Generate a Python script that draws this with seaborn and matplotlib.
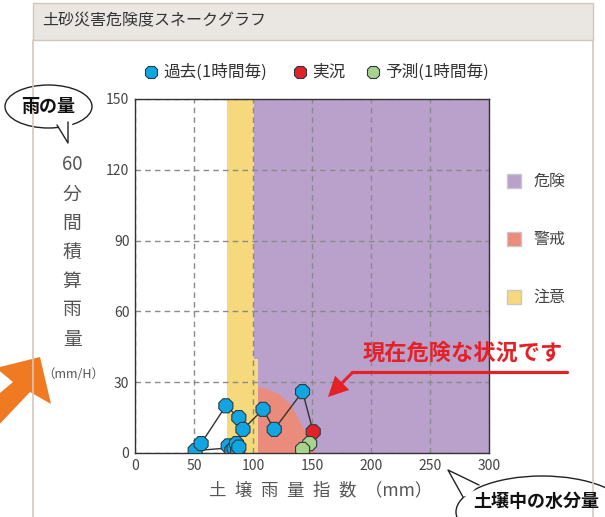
import matplotlib
matplotlib.use("Agg")
import matplotlib.pyplot as plt
import matplotlib.transforms as mtransforms
from matplotlib.patches import Ellipse, Rectangle, Polygon, FancyArrow
from matplotlib.lines import Line2D
import seaborn as sns
import pandas as pd

# snake points: soil water index (mm) vs 60-minute rainfall (mm/h)
past_soil = [79, 82, 84, 86, 87, 88, 51, 56, 77, 88, 91.5, 108.5, 118, 142]
past_rain = [3, 1, 2, 4, 1, 2.5, 1, 4, 20, 15, 10, 18.5, 10, 26]
now_soil = [151]
now_rain = [9]
fcst_soil = [148, 142]
fcst_rain = [4, 1.5]
kinds = ["過去(1時間毎)", "実況", "予測(1時間毎)"]

# risk zones (rain level -> soil index boundaries)
band_rain = [0, 40, 40, 150]
caution_left = [78, 78, 78, 78]
danger_left = [104, 104, 101, 101]
warn_rain = [0, 5, 10, 15, 21, 25, 27.5, 28]
warn_right = [153, 148, 143, 138, 131, 122, 110, 104]
zone_names = ["危険", "警戒", "注意"]

x_ticks = [0, 50, 100, 150, 200, 250, 300]
y_ticks = [0, 30, 60, 90, 120, 150]

c_past, c_now, c_fcst = "#11A6E2", "#E52128", "#A9D28E"
c_danger, c_warn, c_caution = "#B9A1CB", "#EA8B7B", "#F6D97C"
c_edge = "#2a3a44"

sns.set_style("white")
plt.rcParams['font.family'] = ['Noto Sans CJK JP', 'DejaVu Sans']

W, H = 605, 517
fig = plt.figure(figsize=(W / 100, H / 100), dpi=100)
px = mtransforms.Affine2D().scale(0.01, -0.01).translate(0, H / 100) + fig.dpi_scale_trans


def fx(x):
    return x / W


def fy(y):
    return 1 - y / H


# panel frame + title bar
fig.add_artist(Rectangle((33, 3), 560, 37, transform=px, facecolor="#EAE6E2",
                         edgecolor="#D3C7BC", lw=1))
fig.add_artist(Line2D([33, 33], [40, 517], transform=px, color="#D3C7BC", lw=1.2))
fig.add_artist(Line2D([593, 593], [40, 517], transform=px, color="#D3C7BC", lw=1.2))
fig.text(fx(42), fy(21), "土砂災害危険度スネークグラフ", fontsize=11.5, color="#333",
         va="center", ha="left")

ax = fig.add_axes([fx(135), fy(453), (489 - 135) / W, (453 - 99) / H])

# zones
ax.fill_betweenx(band_rain, caution_left, danger_left, color=c_caution, lw=0, zorder=0.5)
ax.fill_betweenx(band_rain, danger_left, 300, color=c_danger, lw=0, zorder=0.5)
ax.fill_betweenx(warn_rain, 104, warn_right, color=c_warn, lw=0, zorder=0.6)

df = pd.DataFrame({
    "soil": past_soil + now_soil + fcst_soil,
    "rain": past_rain + now_rain + fcst_rain,
    "kind": [kinds[0]] * len(past_soil) + [kinds[1]] * len(now_soil) + [kinds[2]] * len(fcst_soil),
})
sns.lineplot(data=df, x="soil", y="rain", sort=False, estimator=None, color="#333",
             lw=1, ax=ax, legend=False, zorder=2)
sns.scatterplot(data=df, x="soil", y="rain", hue="kind", hue_order=kinds,
                palette=[c_past, c_now, c_fcst], marker="8", s=120,
                edgecolor=c_edge, linewidth=0.8, ax=ax, legend=False, zorder=3)

ax.set_xlim(0, 300)
ax.set_ylim(0, 150)
ax.set_xticks(x_ticks)
ax.set_yticks(y_ticks)
ax.set_xlabel("")
ax.set_ylabel("")
ax.grid(True, ls=(0, (4, 3)), color="#8a8a8a", lw=1)
ax.tick_params(labelsize=10, labelcolor="#444", color="#444", direction="in", length=3, pad=4)
for s in ax.spines.values():
    s.set_color("#333")
    s.set_linewidth(1)

# top legend (marker + label)
for xm, c, lab in zip([151, 300, 373], [c_past, c_now, c_fcst], kinds):
    fig.add_artist(Line2D([xm], [72], transform=px, ls="", marker="8", markersize=9.5,
                          markerfacecolor=c, markeredgecolor=c_edge, markeredgewidth=0.8))
    fig.text(fx(xm + 12), fy(72), lab, fontsize=12, color="#333", ha="left", va="center")

# zone legend
for yc, c, lab in zip([181, 239, 297], [c_danger, c_warn, c_caution], zone_names):
    fig.add_artist(Rectangle((507, yc - 7), 14, 14, transform=px, facecolor=c,
                             edgecolor="#c8c8c8", lw=1))
    fig.text(fx(533), fy(yc), lab, fontsize=11.5, color="#444", ha="left", va="center")

# axis titles
ylab = ["60", "分", "間", "積", "算", "雨", "量"]
for i, ch in enumerate(ylab):
    fig.text(fx(72), fy(165 + 29 * i), ch, fontsize=13.5, color="#555",
             ha="center", va="center")
fig.text(fx(73), fy(375), "（mm/H）", fontsize=9, color="#555", ha="center", va="center")
fig.text(fx(209), fy(490), "\u2002".join(["土", "壌", "雨", "量", "指", "数"]) + "\u2002（mm）",
         fontsize=12.5, color="#555", ha="left", va="center")

# speech bubble: rain
fig.add_artist(Ellipse((48.5, 106.5), 87, 43, transform=px, facecolor="white",
                       edgecolor="#222", lw=1))
fig.add_artist(Polygon([(57, 124), (68, 143), (73, 121)], closed=True, transform=px,
                       facecolor="white", edgecolor="none"))
fig.add_artist(Line2D([57, 68, 68], [125, 143, 122], transform=px, color="#222", lw=1))
fig.text(fx(48), fy(106), "雨の量", fontsize=13, fontweight="bold", color="#111",
         ha="center", va="center")

# speech bubble: soil water
fig.add_artist(Ellipse((542, 512), 172, 72, transform=px, facecolor="white",
                       edgecolor="#222", lw=1))
fig.add_artist(Polygon([(478, 485), (448, 470), (462, 497), (470, 495)], closed=True,
                       transform=px, facecolor="white", edgecolor="none"))
fig.add_artist(Line2D([479, 448, 463], [485, 470, 497], transform=px, color="#222", lw=1))
fig.text(fx(536), fy(501), "土壌中の水分量", fontsize=13, fontweight="bold", color="#111",
         ha="center", va="center")

# orange arrow
fig.add_artist(Polygon([(40, 357), (51, 404), (30, 392), (-6, 430), (-6, 398),
                        (13, 382), (-4, 368)], closed=True, transform=px,
                       facecolor="#F07A22", edgecolor="none"))

# red callout
fig.add_artist(Line2D([567, 352], [372, 372], transform=px, color=c_now, lw=2.3))
fig.add_artist(FancyArrow(353, 372, -25, 25, width=3, head_width=20, head_length=20,
                          length_includes_head=True, transform=px, color=c_now, lw=0))
fig.text(fx(463), fy(353), "現在危険な状況です", fontsize=16, fontweight="bold",
         color=c_now, ha="center", va="center")

fig.savefig("out.png", dpi=100)
plt.close(fig)
